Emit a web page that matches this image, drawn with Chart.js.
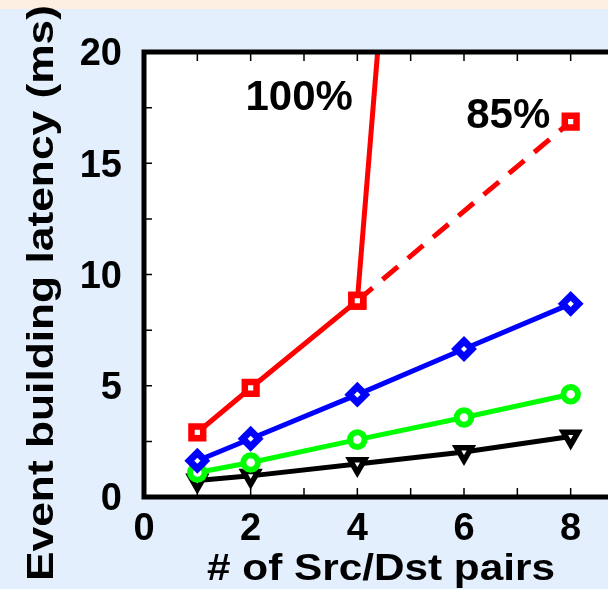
<!DOCTYPE html>
<html lang="en">
<head>
    <meta charset="UTF-8">
    <title>Event building latency</title>
    <script src="https://cdn.jsdelivr.net/npm/chart.js@4"></script>
    <style>
body {
    margin: 0;
    padding: 0;
    overflow: hidden;
    background: linear-gradient(#fdf0e2 0, #fdf0e2 9px, #e3effc 9px);
    width: 608px;
    height: 589px;
}

.chart-box {
    position: absolute;
    left: 0;
    top: 0;
    width: 640px;
    height: 589px;
}
    </style>
</head>
<body>
    <div class="chart-box">
        <canvas id="latencyChart" width="640" height="589"></canvas>
    </div>

    <script>
// data
const pairs = [1, 2, 4, 6, 8];
const lat100 = [2.9, 4.9, 8.82, 67.6];       // 100% load, leaves the plot above x=4
const pairs100 = [1, 2, 4, 6];
const pairs85 = [4, 8];
const lat85 = [8.82, 16.87];                  // 85% load, dashed
const latBlue = [1.63, 2.62, 4.6, 6.65, 8.68];
const latGreen = [1.1, 1.55, 2.58, 3.57, 4.62];
const latBlack = [0.74, 0.95, 1.48, 2.02, 2.72];

const xTicks = [0, 2, 4, 6, 8];
const yTicks = [0, 5, 10, 15, 20];
const xTitle = '# of Src/Dst pairs';
const yTitle = 'Event building latency (ms)';
const notes = [
    { text: '100%', x: 2.91, y: 17.9 },
    { text: '85%', x: 6.83, y: 17.1 }
];

const FONT = 'Liberation Sans, Arial, sans-serif';

function toPoints(xs, ys) {
    return xs.map((x, i) => ({ x: x, y: ys[i] }));
}

function series(label, xs, ys, color, style, extra) {
    return Object.assign({
        label: label,
        data: toPoints(xs, ys),
        borderColor: color,
        backgroundColor: '#fff',
        borderWidth: 5,
        pointStyle: style,
        pointRadius: 8,
        pointBorderWidth: 6,
        pointBorderColor: color,
        pointBackgroundColor: '#fff',
        pointHoverRadius: 8,
        tension: 0,
        fill: false
    }, extra || {});
}

// text squeezed/stretched to the width it has in the picture
function fitText(ctx, text, x, y, width) {
    const w = ctx.measureText(text).width;
    ctx.save();
    ctx.translate(x, y);
    ctx.scale(width / w, 1);
    ctx.fillText(text, 0, 0);
    ctx.restore();
}

// white plot area, gnuplot-like frame with inward ticks, titles and labels
const framePlugin = {
    id: 'frame',
    beforeDatasetsDraw(chart) {
        const { ctx, chartArea: a } = chart;
        ctx.save();
        ctx.fillStyle = '#fff';
        ctx.fillRect(a.left, a.top, a.right - a.left + 20, a.bottom - a.top);
        ctx.restore();
    },
    afterDatasetsDraw(chart) {
        const { ctx, chartArea: a, scales } = chart;
        const x = scales.x, y = scales.y;
        ctx.save();
        ctx.strokeStyle = '#000';
        ctx.lineWidth = 1.5;
        ctx.beginPath();
        x.ticks.forEach(t => {
            const px = x.getPixelForValue(t.value);
            ctx.moveTo(px, a.bottom);
            ctx.lineTo(px, a.bottom - 9);
            ctx.moveTo(px, a.top);
            ctx.lineTo(px, a.top + 9);
        });
        y.ticks.forEach(t => {
            const py = y.getPixelForValue(t.value);
            ctx.moveTo(a.left, py);
            ctx.lineTo(a.left + 8, py);
        });
        ctx.stroke();

        ctx.lineWidth = 5;
        ctx.beginPath();
        ctx.moveTo(a.right + 20, a.top);
        ctx.lineTo(a.left, a.top);
        ctx.lineTo(a.left, a.bottom);
        ctx.lineTo(a.right + 20, a.bottom);
        ctx.stroke();

        ctx.fillStyle = '#000';
        ctx.font = 'bold 42px ' + FONT;
        ctx.textAlign = 'center';
        ctx.textBaseline = 'middle';
        notes.forEach(n => {
            ctx.fillText(n.text, x.getPixelForValue(n.x), y.getPixelForValue(n.y));
        });

        ctx.font = 'bold 36px ' + FONT;
        ctx.textBaseline = 'alphabetic';
        fitText(ctx, xTitle, 381, 580, 348);
        ctx.translate(53, 293);
        ctx.rotate(-Math.PI / 2);
        fitText(ctx, yTitle, 0, 0, 576);
        ctx.restore();
    }
};

const ctx = document.getElementById('latencyChart').getContext('2d');
const chart = new Chart(ctx, {
    type: 'line',
    data: {
        datasets: [
            series('100%', pairs100, lat100, '#ff0000', 'rect', { pointRadius: 8.3, pointBorderWidth: 6.5 }),
            series('85%', pairs85, lat85, '#ff0000', 'rect', { borderDash: [20, 13], pointRadius: 8.3, pointBorderWidth: 6.5 }),
            series('blue', pairs, latBlue, '#0000ff', 'rectRot', { pointRadius: 8, pointBorderWidth: 7 }),
            series('green', pairs, latGreen, '#00ff00', 'circle', { pointRadius: 7.3, pointBorderWidth: 6 }),
            series('black', pairs, latBlack, '#000000', 'triangle', { pointRadius: 8.5, pointRotation: 180, pointBorderWidth: 5.5 })
        ]
    },
    options: {
        responsive: false,
        animation: false,
        events: [],
        layout: { padding: { top: 52, right: 16, left: 0, bottom: 0 } },
        plugins: {
            legend: { display: false },
            tooltip: { enabled: false }
        },
        scales: {
            x: {
                type: 'linear',
                min: 0,
                max: 9,
                grid: { display: false },
                border: { display: false },
                afterFit: s => { s.height = 92; },
                ticks: {
                    stepSize: 1,
                    padding: 2,
                    color: '#000',
                    font: { family: FONT, size: 38, weight: 'bold' },
                    maxRotation: 0,
                    autoSkip: false,
                    callback: v => xTicks.includes(v) ? String(v) : ''
                }
            },
            y: {
                min: 0,
                max: 20,
                grid: { display: false },
                border: { display: false },
                afterFit: s => { s.width = 144; },
                ticks: {
                    stepSize: 2.5,
                    padding: 14,
                    labelOffset: 3,
                    color: '#000',
                    font: { family: FONT, size: 38, weight: 'bold' },
                    autoSkip: false,
                    callback: v => yTicks.includes(v) ? String(v) : ''
                }
            }
        }
    },
    plugins: [framePlugin]
});
    </script>
</body>
</html>
